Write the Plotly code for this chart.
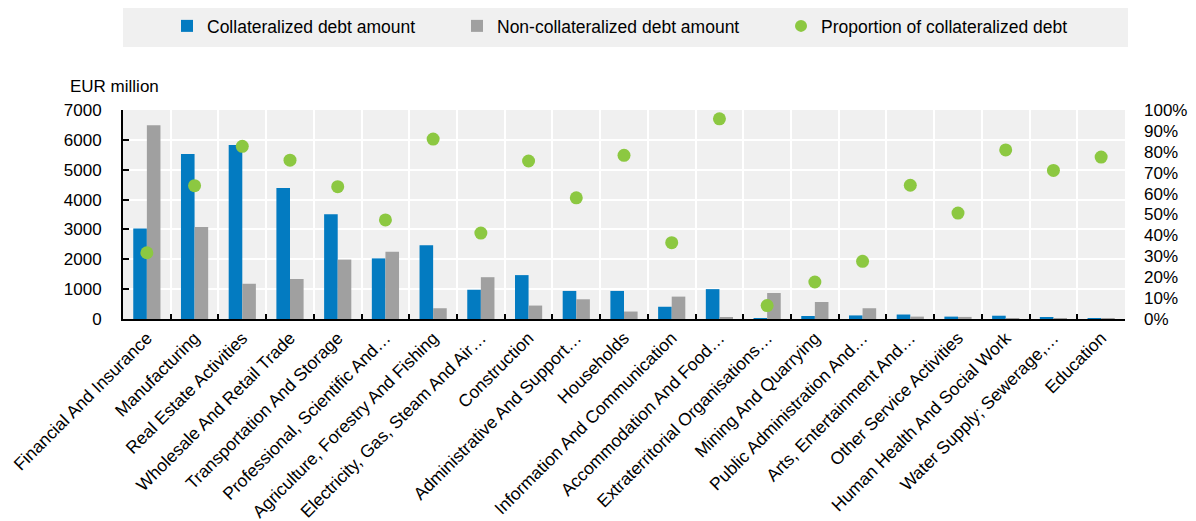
import plotly.graph_objects as go

categories = [
    "Financial And Insurance", "Manufacturing", "Real Estate Activities",
    "Wholesale And Retail Trade", "Transportation And Storage",
    "Professional, Scientific And\u2026", "Agriculture, Forestry And Fishing",
    "Electricity, Gas, Steam And Air\u2026", "Construction",
    "Administrative And Support\u2026", "Households",
    "Information And Communication", "Accommodation And Food\u2026",
    "Extraterritorial Organisations\u2026", "Mining And Quarrying",
    "Public Administration And\u2026", "Arts, Entertainment And\u2026",
    "Other Service Activities", "Human Health And Social Work",
    "Water Supply; Sewerage,\u2026", "Education",
]
collateralized = [3030, 5530, 5830, 4390, 3510, 2030, 2470, 980, 1470, 940, 940,
                  410, 1000, 30, 100, 120, 150, 80, 110, 45, 15]
non_collateralized = [6490, 3080, 1180, 1340, 1990, 2250, 360, 1400, 450, 660, 250,
                      750, 40, 870, 570, 360, 80, 70, 26, 18, 5]
proportion = [31.7, 63.8, 82.6, 76.0, 63.3, 47.4, 86.1, 41.1, 75.6, 58.0, 78.3,
              36.5, 95.8, 6.4, 17.7, 27.6, 64.0, 50.7, 80.9, 71.1, 77.5]

BLUE = "#037bc1"
GRAY = "#a0a0a0"
GREEN = "#8cc841"
FONT = "Liberation Sans, Arial, sans-serif"

fig = go.Figure()
fig.add_trace(go.Bar(x=categories, y=collateralized, name="Collateralized debt amount",
                     marker=dict(color=BLUE, line=dict(width=0)), legend="legend"))
fig.add_trace(go.Bar(x=categories, y=non_collateralized, name="Non-collateralized debt amount",
                     marker=dict(color=GRAY, line=dict(width=0)), legend="legend2"))
fig.add_trace(go.Scatter(x=categories, y=proportion, name="Proportion of collateralized debt",
                         mode="markers", yaxis="y2",
                         marker=dict(color=GREEN, size=13, line=dict(width=0)),
                         legend="legend3"))

OFF = 8  # page body margin
L, R, T, B = 115, 71, 102, 202
W, H = 1188, 513
pw, ph = W - L - R, H - T - B

def px(x):
    return (x - OFF - L) / pw

def py(y):
    return (OFF + H - B - y) / ph

legend_common = dict(orientation="h", bgcolor="rgba(0,0,0,0)", yanchor="middle",
                     xanchor="left", font=dict(family=FONT, size=17.5, color="#000"),
                     y=py(26))

fig.update_layout(
    width=W, height=H,
    margin=dict(l=L, r=R, t=T, b=B, autoexpand=False),
    paper_bgcolor="white",
    plot_bgcolor="#f0f0f0",
    barmode="group",
    bargap=0.43,
    bargroupgap=0,
    showlegend=True,
    font=dict(family=FONT, size=17, color="#000"),
    legend=dict(x=px(167), **legend_common),
    legend2=dict(x=px(457), **legend_common),
    legend3=dict(x=px(781), itemsizing="constant", **legend_common),
    xaxis=dict(
        type="category",
        tickson="boundaries",
        ticks="inside", ticklen=5, tickwidth=2, tickcolor="#000",
        showline=True, linecolor="#000", linewidth=2,
        showgrid=True, gridcolor="white", gridwidth=2,
        tickangle=-45,
        tickfont=dict(family=FONT, size=17.5, color="#000"),
        range=[-0.5, len(categories) - 0.5],
    ),
    yaxis=dict(
        range=[0, 7000], dtick=1000,
        ticks="inside", ticklen=6, tickwidth=2, tickcolor="#000",
        showline=True, linecolor="#000", linewidth=2,
        showgrid=True, gridcolor="white", gridwidth=2,
        zeroline=False,
        ticklabelstandoff=16,
        tickfont=dict(family=FONT, size=17, color="#000"),
    ),
    yaxis2=dict(
        overlaying="y", side="right",
        range=[0, 100], dtick=10, ticksuffix="%",
        showgrid=False, zeroline=False, showline=False,
        ticklabelstandoff=18,
        tickfont=dict(family=FONT, size=17, color="#000"),
    ),
    shapes=[dict(type="rect", xref="paper", yref="paper",
                 x0=0, x1=px(1128), y0=py(47), y1=py(5),
                 fillcolor="#f0f0f0", line=dict(width=0), layer="below")],
    annotations=[dict(text="EUR million", xref="paper", yref="paper",
                      x=px(68), y=py(86), xanchor="left", yanchor="middle",
                      showarrow=False, font=dict(family=FONT, size=17, color="#000"))],
)

fig.write_html("out.html")
